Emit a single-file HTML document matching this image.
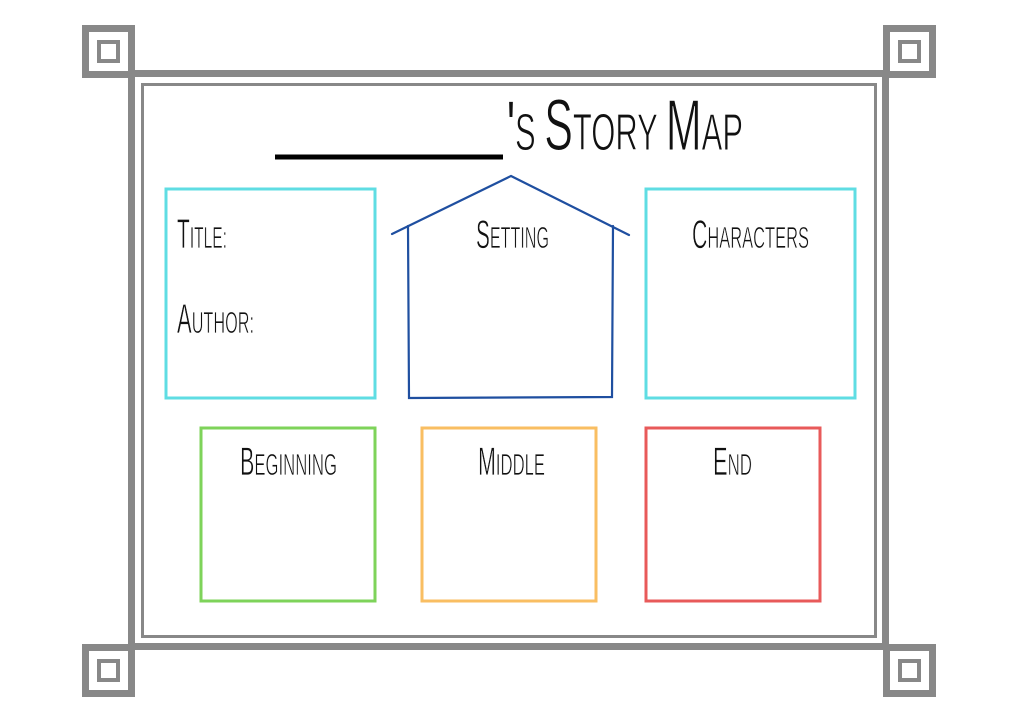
<!DOCTYPE html>
<html><head><meta charset="utf-8"><style>
html,body{margin:0;padding:0;background:#fff;width:1024px;height:723px;overflow:hidden}
svg{display:block}
text{font-family:"Liberation Sans",sans-serif;fill:#111;stroke:#fff;stroke-width:0.7}
</style></head><body>
<svg width="1024" height="723" viewBox="0 0 1024 723" xmlns="http://www.w3.org/2000/svg">
<g fill="none" stroke="#888">
<rect x="131.5" y="73.5" width="754" height="573" stroke-width="7"/>
<rect x="142.5" y="84.5" width="733" height="552" stroke-width="3"/>
<g stroke-width="7">
<rect x="85.5" y="28.5" width="46" height="46" fill="#fff"/>
<rect x="886.5" y="28.5" width="46" height="46" fill="#fff"/>
<rect x="85.5" y="647.5" width="46" height="46" fill="#fff"/>
<rect x="886.5" y="647.5" width="46" height="46" fill="#fff"/>
</g>
<g stroke-width="4">
<rect x="99" y="42" width="19" height="19"/>
<rect x="900" y="42" width="19" height="19"/>
<rect x="99" y="661" width="19" height="19"/>
<rect x="900" y="661" width="19" height="19"/>
</g>
</g>
<line x1="275" y1="157" x2="503" y2="157" stroke="#000" stroke-width="5"/>
<text x="507" y="150" textLength="236" lengthAdjust="spacingAndGlyphs" style="stroke-width:1"><tspan font-size="70" style="stroke:none">'</tspan><tspan font-size="52">S </tspan><tspan font-size="72">S</tspan><tspan font-size="52">TORY </tspan><tspan font-size="72">M</tspan><tspan font-size="52">AP</tspan></text>
<g fill="none" stroke-width="3">
<rect x="166" y="189" width="209" height="209" stroke="#5fdde3"/>
<rect x="646" y="189" width="209" height="209" stroke="#5fdde3"/>
<rect x="201" y="428" width="174" height="173" stroke="#7ed35a"/>
<rect x="422" y="428" width="174" height="173" stroke="#f9be62"/>
<rect x="646" y="428" width="174" height="173" stroke="#e85a5a"/>
</g>
<g fill="none" stroke="#1f4fa0" stroke-width="2.2" stroke-linecap="round">
<polyline points="392,234 511,176 629,235"/>
<polyline points="408,226 409,398 612,397 613,226"/>
</g>
<text x="177" y="248" textLength="50" lengthAdjust="spacingAndGlyphs"><tspan font-size="42">T</tspan><tspan font-size="31">ITLE:</tspan></text>
<text x="177" y="333" textLength="77" lengthAdjust="spacingAndGlyphs"><tspan font-size="42">A</tspan><tspan font-size="31">UTHOR:</tspan></text>
<text x="476" y="248" textLength="73" lengthAdjust="spacingAndGlyphs"><tspan font-size="40">S</tspan><tspan font-size="31">ETTING</tspan></text>
<text x="692" y="248" textLength="117" lengthAdjust="spacingAndGlyphs"><tspan font-size="40">C</tspan><tspan font-size="31">HARACTERS</tspan></text>
<text x="240" y="475" textLength="97" lengthAdjust="spacingAndGlyphs"><tspan font-size="40">B</tspan><tspan font-size="31">EGINNING</tspan></text>
<text x="478" y="475" textLength="67" lengthAdjust="spacingAndGlyphs"><tspan font-size="40">M</tspan><tspan font-size="31">IDDLE</tspan></text>
<text x="713" y="475" textLength="39" lengthAdjust="spacingAndGlyphs"><tspan font-size="40">E</tspan><tspan font-size="31">ND</tspan></text>
</svg>
</body></html>
